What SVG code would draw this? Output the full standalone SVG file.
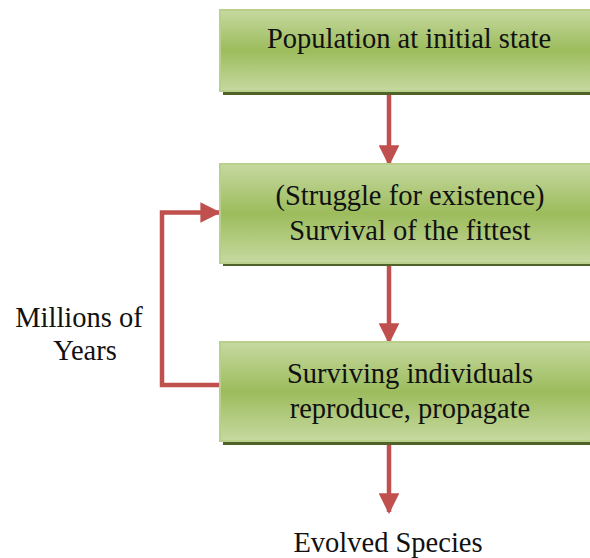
<svg xmlns="http://www.w3.org/2000/svg" width="590" height="558" viewBox="0 0 590 558">
  <defs>
    <linearGradient id="boxFill" x1="0" y1="0" x2="0" y2="1">
      <stop offset="0" stop-color="#C6D9A0"/>
      <stop offset="0.5" stop-color="#9CBC5C"/>
      <stop offset="1" stop-color="#C6D9A0"/>
    </linearGradient>
    <marker id="arrowHead" viewBox="0 0 10 10" refX="9" refY="5" markerWidth="4.6" markerHeight="4.6" orient="auto" markerUnits="strokeWidth">
      <path d="M0,0 L10,5 L0,10 Z" fill="#C0504D"/>
    </marker>
  </defs>
  <style>
    .shadow { fill: #4F6228; }
    .box { fill: url(#boxFill); stroke: #B9D08C; stroke-width: 2; }
    .label { font-family: "Liberation Serif", "Times New Roman", serif; font-size: 28.5px; fill: #111; text-anchor: middle; }
    .link { fill: none; stroke: #C0504D; stroke-width: 4.5; }
  </style>
  <rect width="590" height="558" fill="#FFFFFF"/>

  <g id="connectors">
    <line class="link" x1="389" y1="95" x2="389" y2="164" marker-end="url(#arrowHead)"/>
    <line class="link" x1="389" y1="266" x2="389" y2="342" marker-end="url(#arrowHead)"/>
    <line class="link" x1="389" y1="445" x2="389" y2="512" marker-end="url(#arrowHead)"/>
    <path class="link" d="M221,385 H162 V212.5 H219" marker-end="url(#arrowHead)"/>
  </g>

  <g id="node-population">
    <rect class="shadow" x="223" y="13" width="380" height="82"/>
    <rect class="box" x="220" y="10" width="380" height="81"/>
    <text class="label" x="409" y="48">Population at initial state</text>
  </g>

  <g id="node-survival">
    <rect class="shadow" x="223" y="168" width="380" height="98"/>
    <rect class="box" x="220" y="164" width="380" height="99"/>
    <text class="label" x="410" y="205">(Struggle for existence)</text>
    <text class="label" x="410" y="240">Survival of the fittest</text>
  </g>

  <g id="node-reproduce">
    <rect class="shadow" x="223" y="346" width="380" height="99"/>
    <rect class="box" x="220" y="342" width="380" height="99"/>
    <text class="label" x="410" y="383">Surviving individuals</text>
    <text class="label" x="410" y="418">reproduce, propagate</text>
  </g>

  <g id="node-evolved">
    <text class="label" x="388" y="552">Evolved Species</text>
  </g>

  <g id="label-millions">
    <text class="label" x="79" y="327">Millions of</text>
    <text class="label" x="85" y="360">Years</text>
  </g>
</svg>
